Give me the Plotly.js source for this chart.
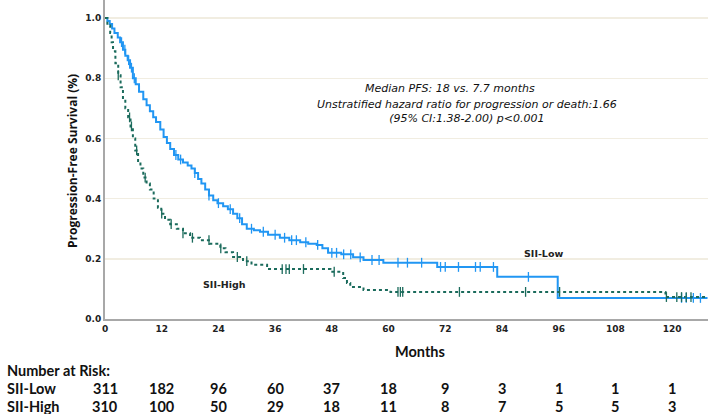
<!DOCTYPE html>
<html>
<head>
<meta charset="utf-8">
<script src="https://cdn.plot.ly/plotly-3.0.1.min.js"></script>
<style>html,body{margin:0;padding:0;background:#fff}#chart{width:708px;height:414px}</style>
</head>
<body>
<div id="chart"></div>
<script>
// ---- Data ----
const lowTimes = [0,0.5,1,1.5,2,2.7,3.2,3.8,4.3,4.8,5.3,5.9,6.5,7.2,8.1,8.8,9.5,10.2,10.8,11.7,12.4,13.1,13.8,14.6,15.5,16.5,17.5,18.3,19,19.7,20.4,21.2,22,22.9,23.8,25,26,27.1,28,29,30,31.5,32.8,34.5,37,39,41.3,43,44.8,46,47.2,50,52.5,54.7,58.9,70.3,83,95.8,127.5];
const lowSurv  = [1.0,0.99,0.98,0.965,0.95,0.935,0.92,0.895,0.875,0.86,0.835,0.80,0.78,0.755,0.73,0.71,0.69,0.67,0.655,0.63,0.605,0.585,0.565,0.545,0.53,0.52,0.51,0.50,0.485,0.465,0.45,0.43,0.41,0.395,0.385,0.375,0.365,0.35,0.335,0.315,0.30,0.295,0.29,0.28,0.27,0.262,0.255,0.25,0.246,0.235,0.22,0.215,0.205,0.196,0.187,0.173,0.14,0.07,0.07];
const highTimes = [0,0.5,1.1,1.4,1.7,2.2,2.8,3.3,3.8,4.3,4.9,5.4,5.9,6.4,7,7.5,8.1,8.8,9.5,10.3,11.2,11.9,12.7,13.8,15.2,16.5,18,20.1,22.2,24.4,25.5,27.1,29.2,31,34.3,47.7,50.4,51.2,51.9,54.7,60.4,118.6,127.5];
const highSurv  = [1.0,0.975,0.95,0.92,0.89,0.85,0.81,0.77,0.73,0.70,0.67,0.64,0.60,0.56,0.525,0.50,0.47,0.45,0.43,0.40,0.37,0.35,0.33,0.315,0.30,0.285,0.27,0.262,0.25,0.235,0.222,0.206,0.192,0.18,0.166,0.157,0.136,0.12,0.106,0.096,0.09,0.073,0.073];
const lowCensor  = [3.5,4.2,5,5.6,6.2,15,16,19,22,24,26.5,28.5,31,33.5,36,38,39.5,40.5,42.5,45,48,49,50.5,52,54,56.5,58,62,64,67,71,72,74.8,78.4,79.4,82.2,89.6,122,123,124.5,126];
const highCensor = [2.8,5.2,5.6,6.7,8.5,12,14,16.5,18.5,22,24.5,28,30,37.5,38.3,39,42,48.5,62,62.5,63,75,89,96.2,118.8,121,122,123,124];
const xTicks = [0,12,24,36,48,60,72,84,96,108,120];
const yTicks = [0,0.2,0.4,0.6,0.8,1.0];
const riskLow  = [311,182,96,60,37,18,9,3,1,1,1];
const riskHigh = [310,100,50,29,18,11,8,7,5,5,3];
const groupNames = ["SII-Low","SII-High"];

// ---- helpers ----
function stepAt(times, surv, t){ let s = surv[0]; for(let i=0;i<times.length;i++){ if(times[i] <= t) s = surv[i]; else break; } return s; }

const blue = "#2196f3";
const teal = "#1b6b5c";
const tickFont = {family:"DejaVu Sans", size:9, color:"#222", weight:"bold"};
const lblFont = {family:"Lato", size:14.5, color:"#111", weight:"bold"};
const noteFont = {family:"DejaVu Sans", size:11, color:"#111"};

const traces = [
  {x: lowTimes, y: lowSurv, mode:"lines", line:{shape:"hv", color:blue, width:2}, hoverinfo:"skip", name:groupNames[0]},
  {x: highTimes, y: highSurv, mode:"lines", line:{shape:"hv", color:teal, width:2, dash:"dot"}, hoverinfo:"skip", name:groupNames[1]},
  {x: lowCensor, y: lowCensor.map(t=>stepAt(lowTimes, lowSurv, t)), mode:"markers",
   marker:{symbol:"line-ns", size:7, line:{color:blue, width:1.3}}, hoverinfo:"skip"},
  {x: highCensor, y: highCensor.map(t=>stepAt(highTimes, highSurv, t)), mode:"markers",
   marker:{symbol:"line-ns", size:7, line:{color:teal, width:1.3}}, hoverinfo:"skip"}
];

const annotations = [
  {xref:"paper", yref:"paper", x:0.572, y:0.724, text:"<i>Median PFS: 18 vs. 7.7 months</i>", showarrow:false, xanchor:"center", yanchor:"middle", font:noteFont},
  {xref:"paper", yref:"paper", x:0.600, y:0.650, text:"<i>Unstratified hazard ratio for progression or death:1.66</i><br><i>(95% CI:1.38-2.00) p<0.001</i>", showarrow:false, xanchor:"center", yanchor:"middle", align:"center", font:noteFont},
  {xref:"x", yref:"y", x:92.8, y:0.219, text:"SII-Low", showarrow:false, font:{family:"DejaVu Sans", size:9.5, color:"#222", weight:"bold"}},
  {xref:"x", yref:"y", x:25.2, y:0.116, text:"SII-High", showarrow:false, font:{family:"DejaVu Sans", size:9.5, color:"#222", weight:"bold"}},
  {xref:"paper", yref:"paper", x:-0.055, y:0.495, text:"Progression-Free Survival (%)", textangle:-90, showarrow:false, xanchor:"center", yanchor:"middle", font:{family:"Open Sans", size:12, color:"#111", weight:"bold"}},
  {xref:"paper", yref:"paper", x:0.523, y:-0.103, text:"Months", showarrow:false, xanchor:"center", yanchor:"middle", font:lblFont},
  {xref:"paper", yref:"paper", x:-0.166, y:-0.16, text:"Number at Risk:", showarrow:false, xanchor:"left", yanchor:"middle", font:lblFont},
  {xref:"paper", yref:"paper", x:-0.166, y:-0.219, text:groupNames[0], showarrow:false, xanchor:"left", yanchor:"middle", font:lblFont},
  {xref:"paper", yref:"paper", x:-0.166, y:-0.273, text:groupNames[1], showarrow:false, xanchor:"left", yanchor:"middle", font:lblFont}
];
xTicks.forEach((t,i)=>{
  annotations.push({xref:"x", yref:"paper", x:t, y:-0.219, text:String(riskLow[i]), showarrow:false, xanchor:"center", yanchor:"middle", font:lblFont});
  annotations.push({xref:"x", yref:"paper", x:t, y:-0.273, text:String(riskHigh[i]), showarrow:false, xanchor:"center", yanchor:"middle", font:lblFont});
});

const layout = {
  width:708, height:414,
  margin:{l:105, r:0, t:0, b:95},
  paper_bgcolor:"#fff", plot_bgcolor:"#fff",
  showlegend:false,
  xaxis:{range:[0,127.6], tickvals:xTicks, ticktext:xTicks.map(String), showgrid:false, zeroline:false,
         showline:true, linecolor:"#a8a8a8", linewidth:2, ticks:"", tickfont:tickFont},
  yaxis:{range:[0,1.06], tickvals:yTicks, tickformat:".1f", showgrid:true, gridcolor:"#f1ede1", gridwidth:1.5, zeroline:false,
         showline:true, linecolor:"#a8a8a8", linewidth:2, ticks:"", tickfont:tickFont},
  annotations: annotations
};

Plotly.newPlot("chart", traces, layout, {displayModeBar:false, staticPlot:true});
</script>
</body>
</html>
